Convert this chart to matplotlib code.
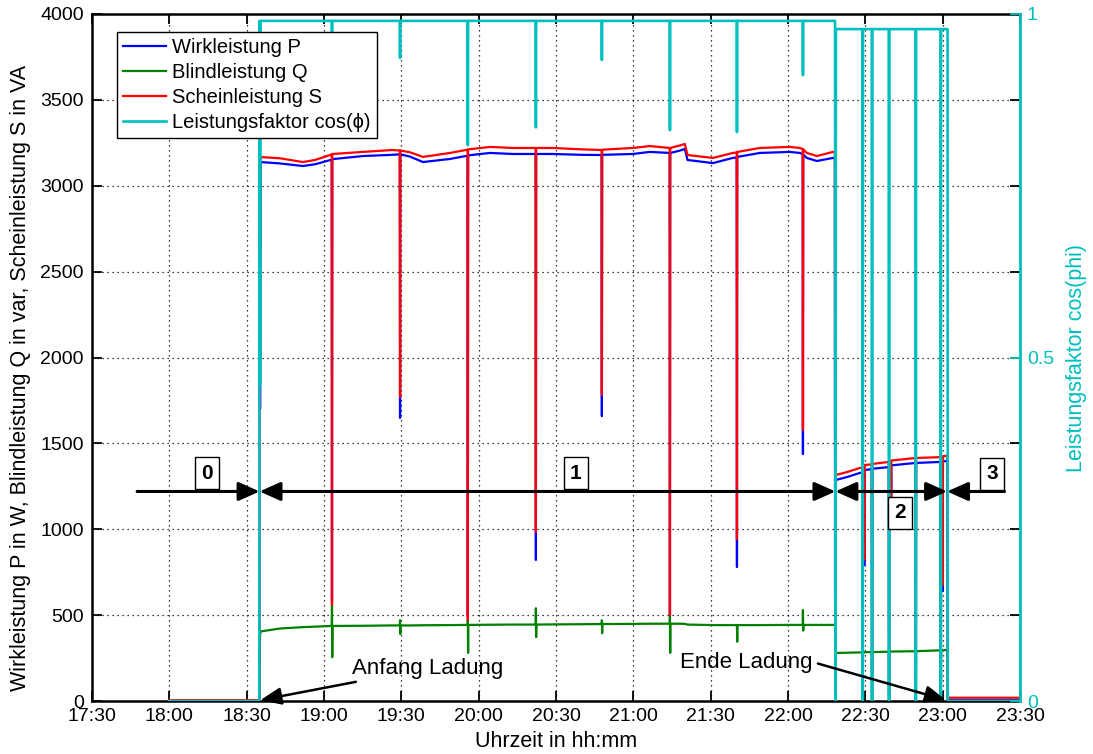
import matplotlib
matplotlib.use("Agg")
import matplotlib.pyplot as plt

plt.rcParams["font.family"] = ["Liberation Sans", "DejaVu Sans"]

# ---------------------------------------------------------------------------
# Measurement data: time in minutes after 17:30, powers and power factor
# ---------------------------------------------------------------------------
t_min = [
    30.0, 64.9,                                   # idle
    65.0, 65.2, 65.4,                             # plug-in
    72.9, 81.8, 86.5,
    93.0, 93.1, 93.2, 93.3,
    105.1, 116.4,
    119.4, 119.5, 119.6, 119.7,
    123.3, 128.4, 138.9,
    145.7, 145.8, 145.9, 146.0,
    154.4, 163.3,
    172.1, 172.2, 172.3, 172.4,
    178.8, 190.0,
    197.7, 197.8, 197.9, 198.0,
    209.8, 216.4,
    224.1, 224.2, 224.3, 224.4,
    228.1, 230.0, 231.0, 240.9, 248.6,
    250.1, 250.2, 250.3, 250.4,
    259.1, 270.7, 274.6,
    275.7, 275.8, 275.9, 276.0,
    277.3, 281.2, 287.4, 288.2, 288.25,
    288.4, 288.6,                                 # switch to reduced current
    292.9, 297.9,
    298.9, 299.0, 299.1, 299.5, 299.6, 299.7,
    302.5, 302.6, 302.7,
    309.1, 309.2, 309.3, 309.9, 310.0, 310.1,
    319.5, 319.6, 319.7,
    329.2, 329.3, 329.4, 329.9, 330.0, 330.1,
    331.9,
    332.0, 360.0,                                 # charging finished
]

P_W = [
    0, 0,
    2700, 1700, 3138,
    3130, 3115, 3125,
    3152, 580, 3155, 3155,
    3173, 3180,
    3183, 1648, 3183, 3183,
    3170, 3138, 3156,
    3175, 490, 3177, 3177,
    3191, 3185,
    3185, 821, 3185, 3185,
    3185, 3180,
    3179, 1659, 3180, 3180,
    3185, 3197,
    3191, 500, 3191, 3191,
    3205, 3214, 3150, 3132, 3162,
    3165, 780, 3168, 3168,
    3191, 3197, 3191,
    3185, 1438, 3180, 3180,
    3162, 3144, 3162, 3160, 646,
    0, 1287,
    1304, 1328,
    1330, 0, 1330, 1332, 792, 1345,
    1350, 0, 1352,
    1362, 0, 1362, 1364, 1100, 1372,
    1386, 0, 1386,
    1392, 0, 1392, 1392, 640, 1395,
    1398,
    5, 5,
]

Q_var = [
    0, 0,
    220, 380, 405,
    422, 430, 433,
    437, 560, 255, 437,
    438, 440,
    440, 470, 390, 440,
    440, 441, 442,
    443, 472, 280, 443,
    444, 445,
    445, 540, 372, 445,
    446, 447,
    448, 470, 395, 448,
    449, 450,
    450, 500, 280, 450,
    450, 449, 445, 442, 442,
    442, 440, 345, 442,
    442, 443, 443,
    443, 530, 410, 443,
    443, 443, 443, 443, 443,
    220, 280,
    281, 283,
    283, 0, 283, 283, 283, 284,
    285, 0, 285,
    287, 0, 287, 287, 287, 288,
    290, 0, 290,
    295, 0, 295, 295, 295, 296,
    297,
    0, 0,
]

S_VA = [
    5, 5,
    2880, 1985, 3167,
    3160, 3138, 3150,
    3182, 560, 3185, 3185,
    3197, 3208,
    3205, 1770, 3205, 3205,
    3195, 3168, 3191,
    3210, 472, 3212, 3212,
    3226, 3220,
    3220, 984, 3220, 3220,
    3220, 3212,
    3208, 1782, 3210, 3210,
    3220, 3231,
    3220, 500, 3220, 3220,
    3235, 3243, 3179, 3162, 3191,
    3194, 943, 3197, 3197,
    3220, 3226, 3220,
    3214, 1578, 3210, 3210,
    3191, 3173, 3197, 3195, 1590,
    35, 1316,
    1333, 1357,
    1360, 75, 1360, 1362, 821, 1374,
    1378, 198, 1380,
    1392, 46, 1392, 1394, 1150, 1400,
    1415, 140, 1415,
    1420, 140, 1420, 1420, 675, 1425,
    1428,
    19, 19,
]

cos_phi = [
    0.0, 0.0,
    0.99, 0.46, 0.99,
    0.99, 0.99, 0.99,
    0.99, 0.88, 0.99, 0.99,
    0.99, 0.99,
    0.99, 0.936, 0.99, 0.99,
    0.99, 0.99, 0.99,
    0.99, 0.809, 0.99, 0.99,
    0.99, 0.99,
    0.99, 0.835, 0.99, 0.99,
    0.99, 0.99,
    0.99, 0.933, 0.99, 0.99,
    0.99, 0.99,
    0.99, 0.831, 0.99, 0.99,
    0.99, 0.99, 0.99, 0.99, 0.99,
    0.99, 0.828, 0.99, 0.99,
    0.99, 0.99, 0.99,
    0.99, 0.911, 0.99, 0.99,
    0.99, 0.99, 0.99, 0.99, 0.99,
    0.0, 0.978,
    0.978, 0.978,
    0.978, 0.0, 0.978, 0.978, 0.978, 0.978,
    0.978, 0.0, 0.978,
    0.978, 0.0, 0.978, 0.978, 0.978, 0.978,
    0.978, 0.0, 0.978,
    0.978, 0.0, 0.978, 0.978, 0.978, 0.978,
    0.978,
    0.0, 0.0,
]

tick_labels = ["17:30", "18:00", "18:30", "19:00", "19:30", "20:00", "20:30",
               "21:00", "21:30", "22:00", "22:30", "23:00", "23:30"]

series_labels = ["Wirkleistung P", "Blindleistung Q", "Scheinleistung S",
                 "Leistungsfaktor cos(\u03d5)"]
phase_names = ["0", "1", "2", "3"]


def clock_to_min(hhmm):
    h, m = (int(v) for v in hhmm.split(":"))
    return h * 60 + m - (17 * 60 + 30)


# ---------------------------------------------------------------------------
# Figure
# ---------------------------------------------------------------------------
W, H = 1093, 754
fig = plt.figure(figsize=(W / 100, H / 100), dpi=100)
fig.patch.set_facecolor("white")
ax1 = fig.add_axes([92 / W, 53 / H, 928 / W, 687 / H])
ax2 = ax1.twinx()

C_P, C_Q, C_S, C_PF = "#0000ff", "#008000", "#ff0000", "#00bfbf"

l1, = ax1.plot(t_min, P_W, color=C_P, lw=1.6, label=series_labels[0])
l2, = ax1.plot(t_min, Q_var, color=C_Q, lw=1.6, label=series_labels[1])
l3, = ax1.plot(t_min, S_VA, color=C_S, lw=1.6, label=series_labels[2])
l4, = ax2.plot(t_min, cos_phi, color=C_PF, lw=1.9, label=series_labels[3])

tick_pos = [clock_to_min(s) for s in tick_labels]
ax1.set_xlim(tick_pos[0], tick_pos[-1])
ax1.set_ylim(0, 4000)
ax2.set_ylim(0, 1)
ax1.set_xticks(tick_pos)
ax1.set_xticklabels(tick_labels)
ax1.set_yticks(range(0, 4001, 500))
ax2.set_yticks([0, 0.5, 1])
ax2.set_yticklabels(["0", "0.5", "1"])

ax1.grid(True, linestyle=(0, (1, 3)), color="black", lw=0.9)

ax1.tick_params(direction="in", length=7, width=1.3, top=True, right=True,
                labelsize=14, colors="black", pad=6)
ax1.tick_params(axis="x", pad=5)
ax2.tick_params(axis="y", direction="in", length=7, width=1.3, colors=C_PF,
                labelsize=14, pad=5)

for side in ["left", "bottom", "top"]:
    ax1.spines[side].set_linewidth(1.8)
    ax1.spines[side].set_color("black")
    ax2.spines[side].set_visible(False)
ax1.spines["right"].set_visible(False)
ax2.spines["right"].set_color(C_PF)
ax2.spines["right"].set_linewidth(2.0)

ax1.set_ylabel("Wirkleistung P in W, Blindleistung Q in var, Scheinleistung S in VA",
               fontsize=15.5)
ax1.yaxis.set_label_coords(-0.066, 0.47)
ax1.set_xlabel("Uhrzeit in hh:mm", fontsize=15.5)
ax1.xaxis.set_label_coords(0.5, -0.043)
ax2.set_ylabel("Leistungsfaktor cos(phi)", fontsize=15.5, color=C_PF,
               rotation=90)
ax2.yaxis.set_label_coords(1.05, 0.5)

# Phase markers (drawn above all curves)
dt = ax1.transData
phase_y = 1220
bounds = [clock_to_min("18:35"), 288.4, 331.7]
head = dict(color="black", lw=2.2, shrinkA=0, shrinkB=0, mutation_scale=15)
one_way = "-|>,head_length=0.85,head_width=0.38"
two_way = "<|-|>,head_length=0.85,head_width=0.38"
ax2.annotate("", xy=(bounds[0], phase_y), xytext=(17.5, phase_y),
             xycoords=dt, textcoords=dt, arrowprops=dict(arrowstyle=one_way, **head))
ax2.annotate("", xy=(bounds[1], phase_y), xytext=(bounds[0], phase_y),
             xycoords=dt, textcoords=dt, arrowprops=dict(arrowstyle=two_way, **head))
ax2.annotate("", xy=(bounds[2], phase_y), xytext=(bounds[1], phase_y),
             xycoords=dt, textcoords=dt, arrowprops=dict(arrowstyle=two_way, **head))
ax2.annotate("", xy=(bounds[2], phase_y), xytext=(354.0, phase_y),
             xycoords=dt, textcoords=dt, arrowprops=dict(arrowstyle=one_way, **head))

label_pos = [(44.6, 1327), (187.7, 1327), (313.4, 1095), (349.1, 1322)]
for name, (x, y) in zip(phase_names, label_pos):
    ax2.text(x, y, name, transform=dt, ha="center", va="center",
             fontsize=15, fontweight="bold",
             bbox=dict(boxstyle="square,pad=0.3", fc="white", ec="black", lw=1.0))

pointer = dict(arrowstyle="-|>,head_length=0.85,head_width=0.35",
               color="black", lw=1.8, shrinkA=2, shrinkB=0, mutation_scale=15)
ax2.annotate("Anfang Ladung", xy=(65.3, 5), xytext=(101, 192),
             xycoords=dt, textcoords=dt, fontsize=16, ha="left", va="center",
             arrowprops=pointer)
ax2.annotate("Ende Ladung", xy=(331.3, 5), xytext=(228.1, 227),
             xycoords=dt, textcoords=dt, fontsize=16, ha="left", va="center",
             arrowprops=dict(pointer, relpos=(1.0, 0.5)))

leg = ax2.legend(handles=[l1, l2, l3, l4], loc="upper left",
                 bbox_to_anchor=(0.027, 0.974), borderaxespad=0,
                 fontsize=14.5, frameon=True, fancybox=False, framealpha=1.0,
                 handlelength=2.15, handletextpad=0.3, labelspacing=0.3,
                 borderpad=0.3)
leg.get_frame().set_edgecolor("black")
leg.get_frame().set_linewidth(1.0)
leg.set_zorder(20)

fig.savefig("out.png", dpi=100, facecolor="white")
